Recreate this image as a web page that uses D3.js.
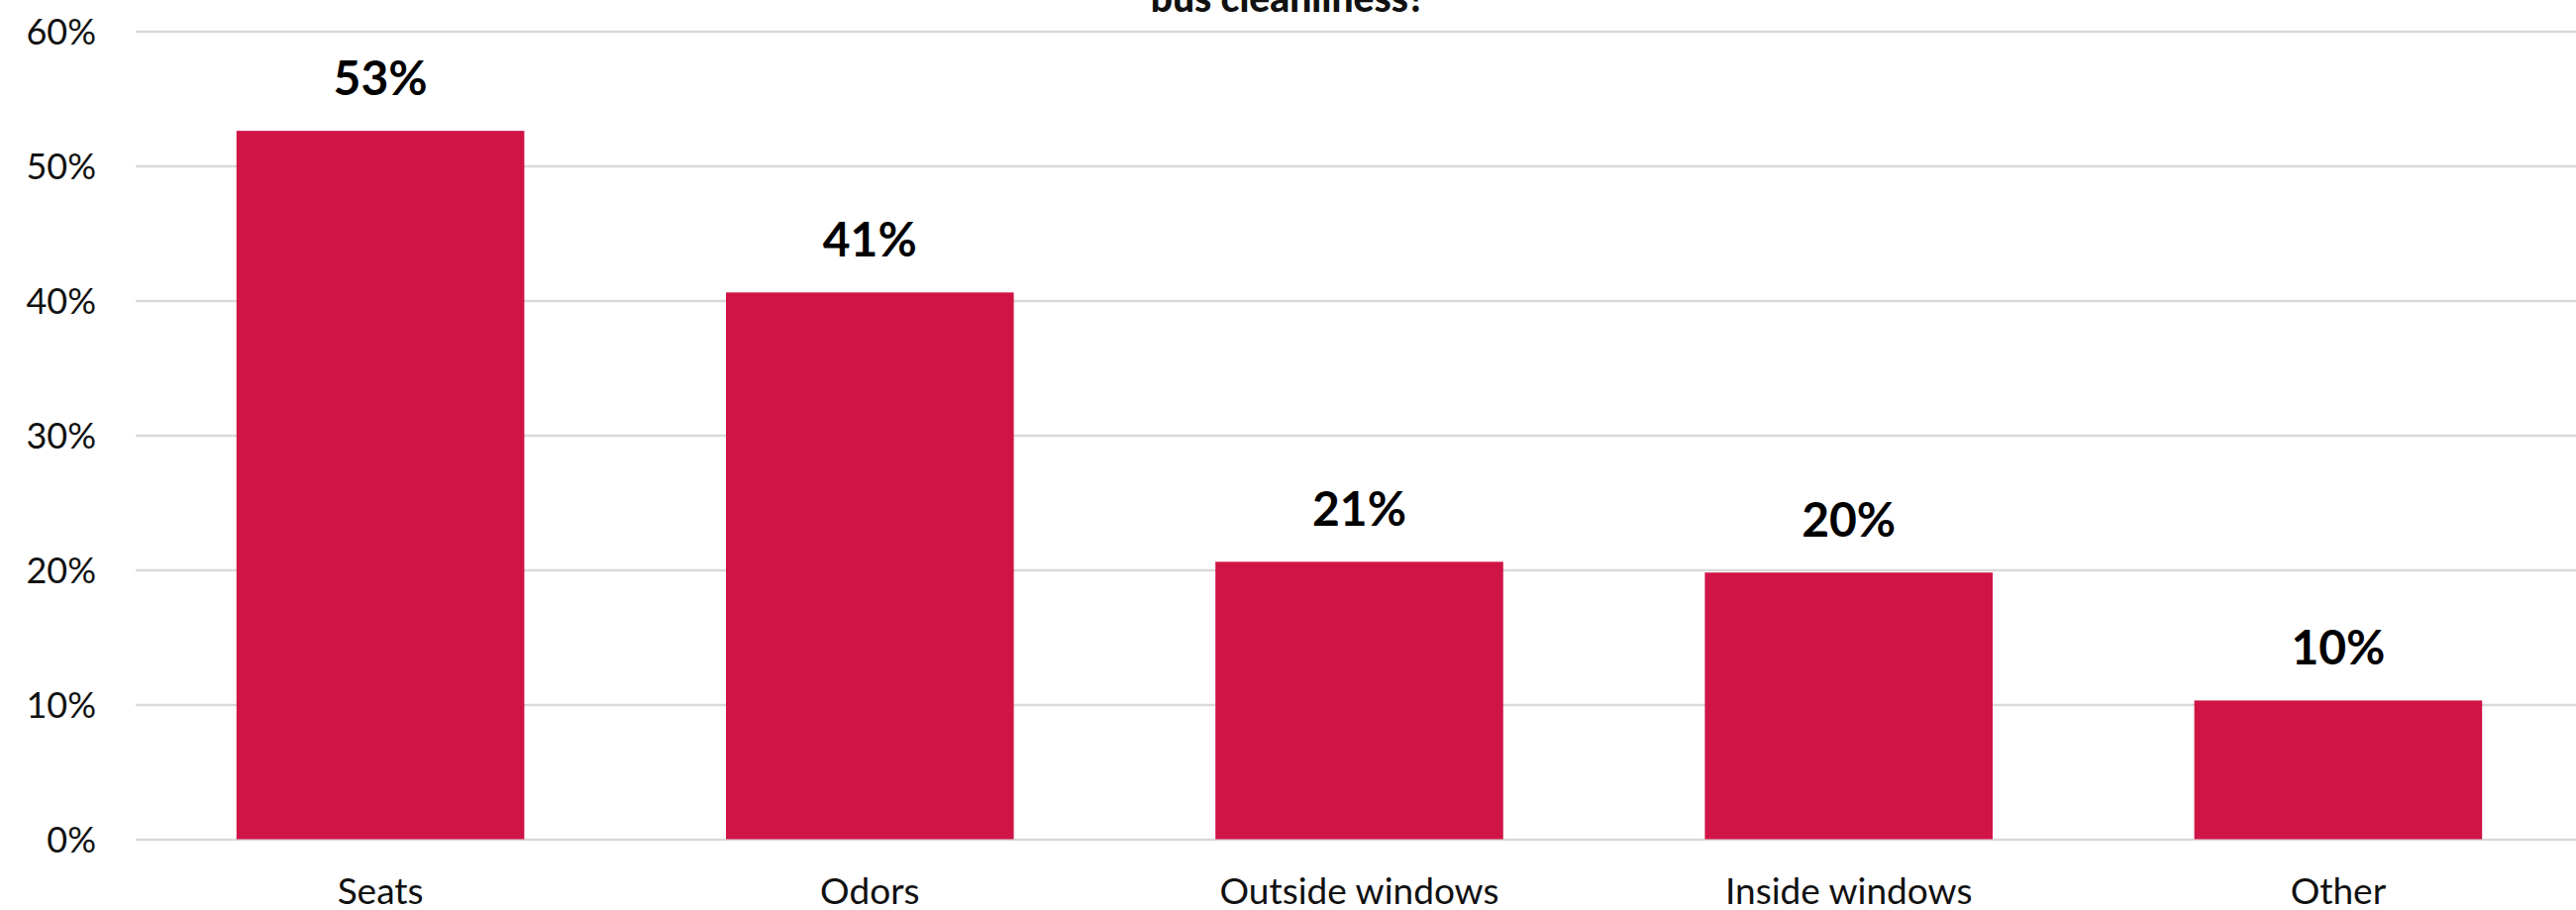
<!DOCTYPE html>
<html>
<head>
<meta charset="utf-8">
<script src="https://cdn.jsdelivr.net/npm/d3@7"></script>
<style>
  html, body { margin: 0; padding: 0; background: #ffffff; overflow: hidden; }
  svg { display: block; }
</style>
</head>
<body>
<svg id="chart" width="2601" height="919"></svg>
<script>
// Survey results: which aspects matter for bus cleanliness
const categories = ["Seats", "Odors", "Outside windows", "Inside windows", "Other"];
const shares = [0.526, 0.406, 0.206, 0.198, 0.103];
const yTicks = [0, 0.1, 0.2, 0.3, 0.4, 0.5, 0.6];
const titleLine = "bus cleanliness?";

const width = 2601, height = 919;
const plot = { left: 137, right: 2608, top: 31.5, bottom: 847.5 };

const barColor = "#D01446";
const gridColor = "#D9D9D9";
const textColor = "#111111";
const font = "Lato, 'Open Sans', 'Liberation Sans', sans-serif";

const svg = d3.select("#chart");

const x = d3.scaleBand()
  .domain(categories)
  .range([plot.left, plot.right])
  .paddingInner(0.412)
  .paddingOuter(0.206);

const y = d3.scaleLinear()
  .domain([0, 0.6])
  .range([plot.bottom, plot.top]);

const pct = d3.format(".0%");

// Title (second line, mostly above the visible area)
svg.append("text")
  .attr("x", width / 2)
  .attr("y", 12)
  .attr("text-anchor", "middle")
  .attr("font-family", font)
  .attr("font-weight", 900)
  .attr("font-size", 39)
  .attr("fill", textColor)
  .text(titleLine);

// Horizontal gridlines and y-axis labels
const yAxis = d3.axisLeft(y)
  .tickValues(yTicks)
  .tickFormat(pct)
  .tickSize(-(plot.right - plot.left))
  .tickPadding(40);

const gy = svg.append("g")
  .attr("transform", `translate(${plot.left},0)`)
  .call(yAxis);

gy.select(".domain").remove();
gy.selectAll(".tick line")
  .attr("stroke", gridColor)
  .attr("stroke-width", 2.5);
gy.selectAll(".tick text")
  .attr("font-family", font)
  .attr("font-size", 36)
  .attr("fill", textColor)
  .attr("dy", "0.36em");

// Bars
svg.append("g")
  .selectAll("rect")
  .data(categories)
  .join("rect")
  .attr("x", d => x(d))
  .attr("width", x.bandwidth())
  .attr("y", (d, i) => y(shares[i]))
  .attr("height", (d, i) => y(0) - y(shares[i]))
  .attr("fill", barColor);

// Value labels above the bars
svg.append("g")
  .selectAll("text")
  .data(categories)
  .join("text")
  .attr("x", d => x(d) + x.bandwidth() / 2)
  .attr("y", (d, i) => y(shares[i]) - 36)
  .attr("text-anchor", "middle")
  .attr("font-family", font)
  .attr("font-weight", 700)
  .attr("font-size", 48)
  .attr("fill", "#000000")
  .text((d, i) => pct(shares[i]));

// Category labels along the bottom
const xAxis = d3.axisBottom(x).tickSize(0).tickPadding(0);
const gx = svg.append("g")
  .attr("transform", `translate(0,${plot.bottom})`)
  .call(xAxis);
gx.select(".domain").remove();
gx.selectAll(".tick text")
  .attr("font-family", font)
  .attr("font-size", 37)
  .attr("fill", textColor)
  .attr("dy", null)
  .attr("y", 65);
</script>
</body>
</html>
